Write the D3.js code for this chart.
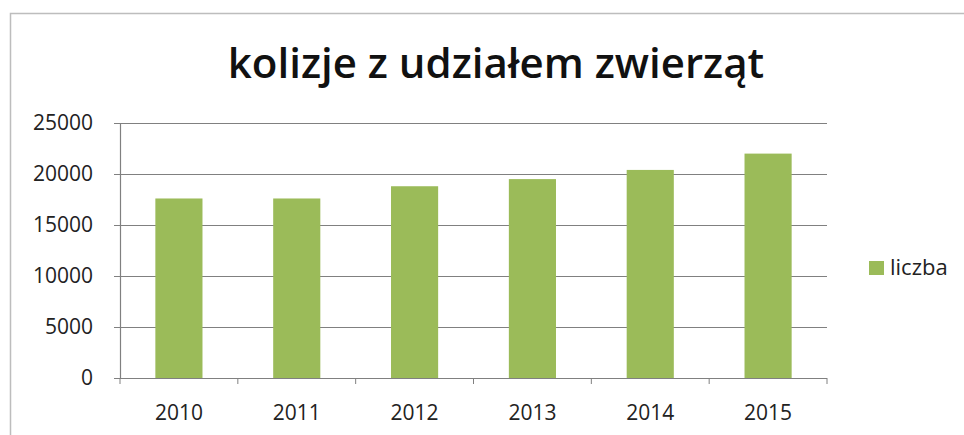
<!DOCTYPE html>
<html>
<head>
<meta charset="utf-8">
<script src="https://cdn.jsdelivr.net/npm/d3@7"></script>
<style>
  body { margin: 0; background: #fff; }
  svg text { font-family: "Open Sans", "Noto Sans", sans-serif; fill: #222; }
</style>
</head>
<body>
<div id="chart"></div>
<script>
  // data
  var years = ["2010", "2011", "2012", "2013", "2014", "2015"];
  var counts = [17600, 17600, 18800, 19500, 20400, 22000];
  var yTicks = [0, 5000, 10000, 15000, 20000, 25000];
  var seriesName = "liczba";
  var title = "kolizje z udziałem zwierząt";

  var W = 964, H = 435;
  var margin = { top: 123, right: 137, bottom: 57, left: 120 },
      width = W - margin.left - margin.right,
      height = H - margin.top - margin.bottom;

  var svg = d3.select("#chart")
      .append("svg")
      .attr("width", W)
      .attr("height", H);

  // chart frame (top + left edges visible)
  svg.append("path")
      .attr("d", "M10.5," + H + "V13.5H" + W)
      .attr("fill", "none")
      .attr("stroke", "#bdbdbd")
      .attr("stroke-width", 1.5);

  // title
  svg.append("text")
      .attr("x", 496)
      .attr("y", 78)
      .attr("text-anchor", "middle")
      .style("font-size", "42px")
      .style("font-weight", 600)
      .style("fill", "#111")
      .text(title);

  var g = svg.append("g")
      .attr("transform", "translate(" + margin.left + "," + margin.top + ")");

  var x = d3.scaleBand()
      .domain(years)
      .range([0, width])
      .paddingInner(0.6)
      .paddingOuter(0.3);

  var y = d3.scaleLinear()
      .domain([0, 25000])
      .range([height, 0]);

  // gridlines
  g.append("g")
      .selectAll("line")
      .data(yTicks)
      .enter()
      .append("line")
      .attr("x1", -6)
      .attr("x2", width)
      .attr("y1", function (d) { return Math.round(y(d)) + 0.5; })
      .attr("y2", function (d) { return Math.round(y(d)) + 0.5; })
      .attr("stroke", "#808080")
      .attr("stroke-width", 1.2);

  // bars
  g.append("g")
      .selectAll("rect")
      .data(counts)
      .enter()
      .append("rect")
      .attr("x", function (d, i) { return x(years[i]); })
      .attr("y", function (d) { return y(d); })
      .attr("width", x.bandwidth())
      .attr("height", function (d) { return height - y(d); })
      .attr("fill", "#9bbb59");

  // Y axis
  var yAxis = g.append("g")
      .call(d3.axisLeft(y).tickValues(yTicks).tickSize(6).tickPadding(21).tickFormat(d3.format("d")));
  yAxis.select(".domain").attr("stroke", "#808080").attr("stroke-width", 1.2);
  yAxis.selectAll(".tick line").attr("stroke", "#808080");
  yAxis.selectAll("text").style("font-size", "21px").style("fill", "#222");

  // X axis with ticks at category boundaries
  var bounds = d3.range(years.length + 1).map(function (i) { return i * width / years.length; });
  var xAxisG = g.append("g").attr("transform", "translate(0," + height + ")");
  xAxisG.append("line")
      .attr("x1", 0).attr("x2", width)
      .attr("y1", 0.5).attr("y2", 0.5)
      .attr("stroke", "#808080").attr("stroke-width", 1.2);
  xAxisG.selectAll(".bt")
      .data(bounds)
      .enter()
      .append("line")
      .attr("x1", function (d) { return d; })
      .attr("x2", function (d) { return d; })
      .attr("y1", 0).attr("y2", 6)
      .attr("stroke", "#808080");
  xAxisG.selectAll(".lbl")
      .data(years)
      .enter()
      .append("text")
      .attr("x", function (d) { return x(d) + x.bandwidth() / 2; })
      .attr("y", 42)
      .attr("text-anchor", "middle")
      .style("font-size", "21px")
      .text(function (d) { return d; });

  // legend
  var legend = svg.append("g").attr("transform", "translate(869,261)");
  legend.append("rect")
      .attr("width", 15)
      .attr("height", 14)
      .attr("fill", "#9bbb59");
  legend.append("text")
      .attr("x", 21)
      .attr("y", 14)
      .style("font-size", "22px")
      .text(seriesName);
</script>
</body>
</html>
